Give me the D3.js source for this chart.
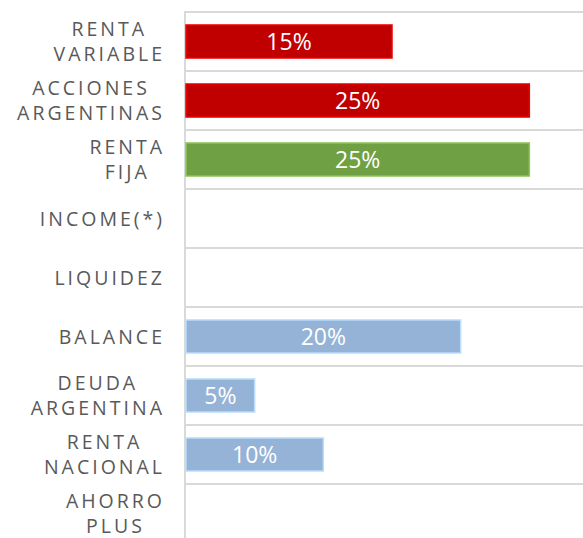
<!DOCTYPE html>
<html>
<head>
<meta charset="utf-8">
<script src="https://cdn.jsdelivr.net/npm/d3@7/dist/d3.min.js"></script>
<style>
  html, body { margin: 0; padding: 0; background: #fff; }
  svg { display: block; }
</style>
</head>
<body>
<svg width="583" height="538"></svg>
<script>
// categories, top to bottom (each line of a label is one entry)
var categories = [
  ["RENTA", "VARIABLE"],
  ["ACCIONES", "ARGENTINAS"],
  ["RENTA", "FIJA"],
  ["INCOME(*)"],
  ["LIQUIDEZ"],
  ["BALANCE"],
  ["DEUDA", "ARGENTINA"],
  ["RENTA", "NACIONAL"],
  ["AHORRO", "PLUS"]
];
var values = [15, 25, 25, 0, 0, 20, 5, 10, 0];
var groups = ["red", "red", "green", "none", "none", "blue", "blue", "blue", "none"];
var groupColors = {red: "#C00000", green: "#70A044", blue: "#95B3D7", none: "none"};

var svg = d3.select('svg');
var plotLeft = 186, plotTop = 12, step = 59;

var x = d3.scaleLinear().domain([0, 30]).range([plotLeft, plotLeft + 412]);
var y = d3.scaleBand()
          .domain(d3.range(categories.length))
          .range([plotTop, plotTop + step * categories.length])
          .paddingInner(0.44)
          .paddingOuter(0.22);

// horizontal grid lines at band boundaries
var gridG = svg.append('g');
d3.range(categories.length + 1).forEach(function(i) {
  gridG.append('line')
       .attr('x1', plotLeft - 1).attr('x2', 583)
       .attr('y1', plotTop + i * y.step()).attr('y2', plotTop + i * y.step())
       .attr('stroke', '#d9d9d9')
       .attr('stroke-width', 2);
});
// category axis line
svg.append('line')
   .attr('x1', plotLeft - 1).attr('x2', plotLeft - 1)
   .attr('y1', plotTop - 1).attr('y2', 538)
   .attr('stroke', '#d9d9d9')
   .attr('stroke-width', 2);

// bars
var bars = svg.append('g').selectAll('rect')
              .data(values.map(function(v, i) { return {v: v, i: i}; }).filter(function(d) { return d.v > 0; }))
              .enter();
bars.append('rect')
    .attr('x', x(0))
    .attr('y', function(d) { return y(d.i); })
    .attr('width', function(d) { return x(d.v) - x(0); })
    .attr('height', y.bandwidth())
    .style('fill', function(d) { return groupColors[groups[d.i]]; })
    .style('stroke', function(d) { return d3.color(groupColors[groups[d.i]]).brighter(0.6); })
    .style('stroke-width', 1.5);
bars.append('text')
    .text(function(d) { return d.v + '%'; })
    .attr('x', function(d) { return (x(0) + x(d.v)) / 2; })
    .attr('y', function(d) { return y(d.i) + y.bandwidth() / 2 + 8.5; })
    .attr('text-anchor', 'middle')
    .attr('font-family', '"Open Sans", sans-serif')
    .attr('font-size', '23px')
    .attr('fill', '#ffffff');

// category labels, lines centred on each other, block right-aligned
var labelRight = 166;
categories.forEach(function(lines, i) {
  var cy = y(i) + y.bandwidth() / 2;
  var g = svg.append('g');
  var texts = lines.map(function(line, k) {
    var baseY = lines.length === 1 ? cy + 7 : cy - 6 + k * 25;
    return g.append('text')
            .text(line)
            .attr('y', baseY)
            .attr('text-anchor', 'middle')
            .attr('font-family', '"Open Sans", sans-serif')
            .attr('font-size', '19.5px')
            .attr('letter-spacing', '3px')
            .attr('fill', '#595959');
  });
  var maxW = d3.max(texts, function(t) { return t.node().getComputedTextLength(); });
  texts.forEach(function(t) { t.attr('x', labelRight - 1 - maxW / 2); });
});
</script>
</body>
</html>
